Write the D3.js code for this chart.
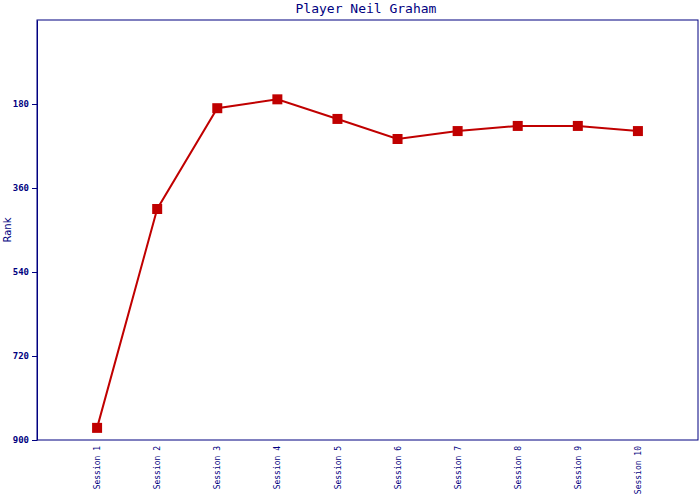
<!DOCTYPE html>
<html><head><meta charset="utf-8">
<script src="https://cdn.jsdelivr.net/npm/d3@7"></script>
<style>body{margin:0;background:#fff}</style>
</head><body>
<svg id="c" width="700" height="500"></svg>
<script>
const categories = ["Session 1","Session 2","Session 3","Session 4","Session 5","Session 6","Session 7","Session 8","Session 9","Session 10"];
const rankValues = [874, 405, 189, 170, 212, 255, 238, 227, 227, 238];
const yTicks = [180, 360, 540, 720, 900];
const title = "Player Neil Graham";
const yLabel = "Rank";

const navy = "#000080", red = "#c00000";
const m = {l:37, t:20, r:698, b:440};
const svg = d3.select("#c");
const x = d3.scalePoint().domain(categories).range([m.l, m.r]).padding(1);
const y = d3.scaleLinear().domain([0, 900]).range([m.t, m.b]);

svg.append("rect").attr("x", m.l).attr("y", m.t).attr("width", m.r-m.l).attr("height", m.b-m.t)
  .attr("fill","none").attr("stroke", navy).attr("stroke-width",1);

const ya = svg.append("g").attr("transform",`translate(${m.l},0)`)
  .call(d3.axisLeft(y).tickValues(yTicks).tickSizeInner(5).tickSizeOuter(0).tickPadding(3));
ya.select(".domain").attr("stroke", navy);
ya.selectAll("line").attr("stroke", navy);
ya.selectAll("text").attr("fill", navy).style("font-family","DejaVu Sans Mono").style("font-size","9px").style("font-weight","bold");

const xa = svg.append("g").attr("transform",`translate(0,${m.b})`)
  .call(d3.axisBottom(x).tickSize(0).tickPadding(0));
xa.select(".domain").remove();
xa.selectAll("text").attr("fill", navy).style("font-family","DejaVu Sans Mono").style("font-size","8px")
  .attr("transform","rotate(-90)").attr("x",-6).attr("y",0).attr("dy","0.32em").attr("text-anchor","end");

svg.append("text").attr("x", 366).attr("y", 13).attr("text-anchor","middle")
  .attr("fill", navy).style("font-family","DejaVu Sans Mono").style("font-size","13px").text(title);

svg.append("text").attr("transform","translate(11,230) rotate(-90)").attr("text-anchor","middle")
  .attr("fill", navy).style("font-family","DejaVu Sans").style("font-size","10px").text(yLabel);

const data = categories.map((c,i)=>({c, v: rankValues[i]}));
svg.append("path").datum(data).attr("fill","none").attr("stroke", red).attr("stroke-width",2)
  .attr("d", d3.line().x(d=>x(d.c)).y(d=>y(d.v)));
svg.selectAll(".pt").data(data).enter().append("rect").attr("class","pt")
  .attr("x", d=>x(d.c)-5).attr("y", d=>y(d.v)-5).attr("width",10).attr("height",10).attr("fill", red);
</script>
</body></html>
